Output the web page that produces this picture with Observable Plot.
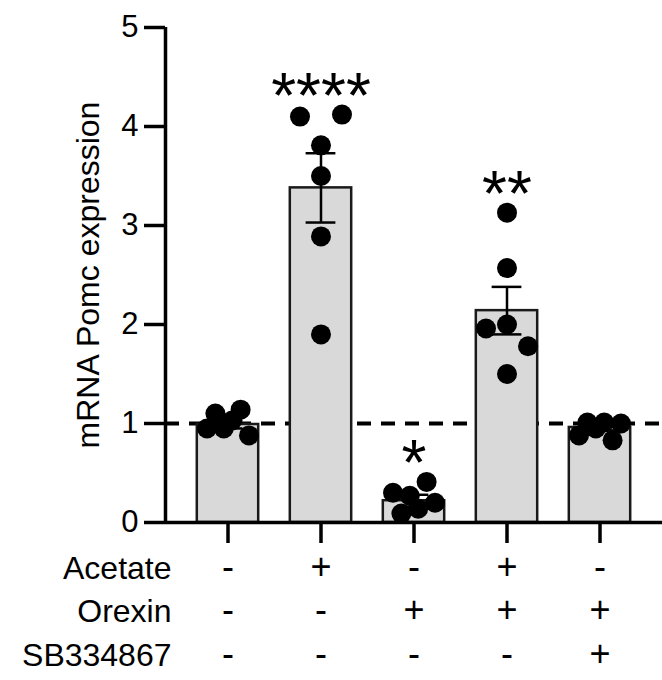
<!DOCTYPE html>
<html>
<head>
<meta charset="utf-8">
<script src="https://cdn.jsdelivr.net/npm/d3@7"></script>
<script src="https://cdn.jsdelivr.net/npm/@observablehq/plot@0.6"></script>
<style>
  html, body { margin: 0; padding: 0; background: #fff; }
  #chart svg { display: block; }
</style>
</head>
<body>
<div id="chart"></div>
<script>
// ---- data (points listed left to right) ----
const acetate  = ["-", "+", "-", "+", "-"];
const orexin   = ["-", "-", "+", "+", "+"];
const sb334867 = ["-", "-", "-", "-", "+"];
const rowLabels = ["Acetate", "Orexin", "SB334867"];

const means = [0.99, 3.38, 0.22, 2.14, 0.96];
const sems  = [0.04, 0.35, 0.06, 0.24, 0.03];

const group1 = [0.95, 1.10, 0.95, 1.03, 1.14, 0.88];
const group2 = [4.10, 3.81, 3.50, 2.89, 1.90, 4.12];
const group3 = [0.30, 0.09, 0.27, 0.14, 0.41, 0.20];
const group4 = [3.13, 2.57, 1.96, 2.00, 1.78, 1.50];
const group5 = [0.88, 1.01, 0.95, 1.01, 0.83, 1.00];

const stars = ["", "****", "*", "**", ""];
const yTicks = [0, 1, 2, 3, 4, 5];
const yLabel = "mRNA Pomc expression";
const baseline = 1;

// ---- layout ----
const W = 662, H = 680;
const mL = 165, mR = 0, mT = 27, mB = 158;
const R = 10;
const groups = [group1, group2, group3, group4, group5];
const n = groups.length;
const xPad = 0.172;
const xDomain = [-0.5 - xPad, n - 0.5 + xPad];
const yDomain = [0, 5];
const pxX = (W - mL - mR) / (xDomain[1] - xDomain[0]);
const pxY = (H - mT - mB) / (yDomain[1] - yDomain[0]);

// scatter layout: dots closer than one diameter vertically form a row,
// and a row is spread evenly across a fixed half-width
function scatterOffsets(values, halfWidthPx, gapPx) {
  const order = d3.range(values.length).sort((a, b) => values[b] - values[a]);
  const off = new Array(values.length).fill(0);
  let cluster = [order[0]];
  const flush = () => {
    const k = cluster.length;
    const members = cluster.slice().sort((a, b) => a - b);
    members.forEach((idx, j) => {
      off[idx] = k > 1 ? (-halfWidthPx + (2 * halfWidthPx * j) / (k - 1)) / pxX : 0;
    });
  };
  for (let t = 1; t < order.length; t++) {
    const prev = order[t - 1], cur = order[t];
    if ((values[prev] - values[cur]) * pxY < gapPx) cluster.push(cur);
    else { flush(); cluster = [cur]; }
  }
  flush();
  return off;
}

const points = groups.flatMap((vals, i) => {
  const off = scatterOffsets(vals, 21, 2 * R);
  return vals.map((v, j) => ({i, value: v, x: i + off[j]}));
});

const stats = means.map((m, i) => ({
  i, mean: m, lo: m - sems[i], hi: m + sems[i],
  star: stars[i], top: d3.max(groups[i]),
  acetate: acetate[i], orexin: orexin[i], sb: sb334867[i]
}));

const rowKeys = ["acetate", "orexin", "sb"];
const rowDy = [56, 99, 143];

const chart = Plot.plot({
  width: W, height: H,
  marginLeft: mL, marginRight: mR, marginTop: mT, marginBottom: mB,
  x: {domain: xDomain, axis: null},
  y: {domain: yDomain, axis: null},
  style: {fontFamily: "'Liberation Sans', Arial, sans-serif", background: "#fff", color: "#000"},
  marks: [
    Plot.ruleY([baseline], {stroke: "#000", strokeWidth: 4, strokeDasharray: "14,10"}),
    Plot.rectY(stats, {x1: d => d.i - 0.33, x2: d => d.i + 0.33, y1: 0, y2: "mean",
      fill: "#d9d9d9", stroke: "#1a1a1a", strokeWidth: 2.5}),
    Plot.ruleX(stats, {x: "i", y1: "lo", y2: "hi", stroke: "#000", strokeWidth: 2.5}),
    Plot.ruleY(stats, {y: "hi", x1: d => d.i - 0.16, x2: d => d.i + 0.16, stroke: "#000", strokeWidth: 2.5}),
    Plot.ruleY(stats, {y: "lo", x1: d => d.i - 0.16, x2: d => d.i + 0.16, stroke: "#000", strokeWidth: 2.5}),
    Plot.dot(points, {x: "x", y: "value", r: R, fill: "#000", stroke: "none"}),
    Plot.text(stats, {x: "i", y: "top", text: "star", fontSize: 64, lineAnchor: "bottom", dy: 3}),
    Plot.ruleY([0], {stroke: "#000", strokeWidth: 3.5}),
    Plot.ruleX([xDomain[0]], {stroke: "#000", strokeWidth: 3.5}),
    Plot.axisY(yTicks, {tickSize: 21, tickPadding: 6, fontSize: 31, strokeWidth: 3.5,
      label: null, tickFormat: d => String(d)}),
    Plot.axisX(d3.range(n), {tickSize: 21, strokeWidth: 3.5, label: null, tickFormat: () => ""}),
    ...rowKeys.map((k, r) => Plot.text(stats, {x: "i", frameAnchor: "bottom", text: k,
      lineAnchor: "bottom", dy: rowDy[r], fontSize: 36})),
    ...rowLabels.map((t, r) => Plot.text([t], {frameAnchor: "bottom-left", textAnchor: "end",
      lineAnchor: "bottom", dx: 6, dy: rowDy[r], fontSize: 32})),
    Plot.text([yLabel], {frameAnchor: "left", textAnchor: "middle", rotate: -90, dx: -77,
      fontSize: 32, lineAnchor: "middle"})
  ]
});
document.getElementById("chart").appendChild(chart);
</script>
</body>
</html>
